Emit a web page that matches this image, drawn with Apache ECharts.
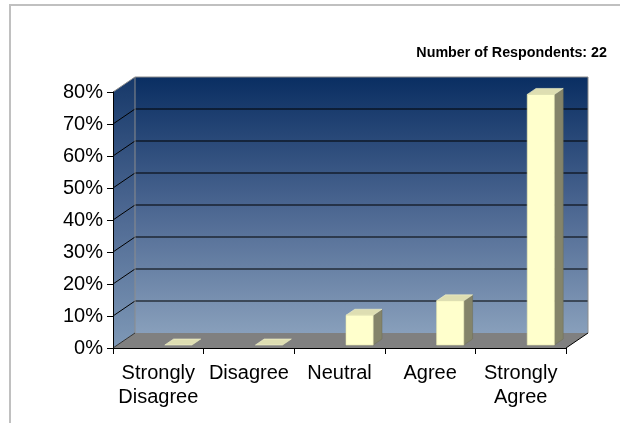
<!DOCTYPE html>
<html>
<head>
<meta charset="utf-8">
<style>
  html, body { margin: 0; padding: 0; background: #ffffff; }
  #chart { width: 620px; height: 423px; }
</style>
<script src="https://cdn.jsdelivr.net/npm/echarts@6/dist/echarts.min.js"></script>
</head>
<body>
<div id="chart"></div>
<script>
// Survey responses (share of respondents, %)
const categories = ['Strongly\nDisagree', 'Disagree', 'Neutral', 'Agree', 'Strongly\nAgree'];
const shares = [0, 0, 9.3, 13.8, 78.3];
const respondents = 22;
const yMax = 80;
const yStep = 10;

// depth of the 3D floor/walls in pixels
const DEPTH_X = 22;
const DEPTH_Y = 15;

const FONT = 'Liberation Sans, Arial, sans-serif';

const chart = echarts.init(document.getElementById('chart'), null, { renderer: 'canvas' });

function wallsRenderItem(params, api) {
  const n = categories.length;
  const bw = api.size([1, 0])[0];
  const base = api.coord([0, 0]);
  const left = base[0] - bw / 2;
  const right = api.coord([n - 1, 0])[0] + bw / 2;
  const yBottom = base[1];
  const yTop = api.coord([0, yMax])[1];
  const bl = left + DEPTH_X, br = right + DEPTH_X;
  const bTop = yTop - DEPTH_Y, bBottom = yBottom - DEPTH_Y;

  const children = [];
  // back wall
  children.push({
    type: 'rect',
    shape: { x: bl, y: bTop, width: br - bl, height: bBottom - bTop },
    style: {
      fill: new echarts.graphic.LinearGradient(0, 0, 0, 1, [
        { offset: 0, color: '#0a2e62' },
        { offset: 0.5, color: '#4a6590' },
        { offset: 1, color: '#889fbb' }
      ])
    }
  });
  // side wall
  children.push({
    type: 'polygon',
    shape: { points: [[left, yTop], [bl, bTop], [bl, bBottom], [left, yBottom]] },
    style: {
      fill: new echarts.graphic.LinearGradient(0, 0, 0, 1, [
        { offset: 0, color: '#163869' },
        { offset: 0.5, color: '#4d6892' },
        { offset: 1, color: '#7e98b6' }
      ])
    }
  });
  // floor
  children.push({
    type: 'polygon',
    shape: { points: [[left, yBottom], [right, yBottom], [br, bBottom], [bl, bBottom]] },
    style: { fill: '#808080' }
  });
  // gridlines on back and side wall
  for (let v = yStep; v < yMax; v += yStep) {
    const y = api.coord([0, v])[1];
    children.push({
      type: 'line',
      shape: { x1: bl, y1: y - DEPTH_Y, x2: br, y2: y - DEPTH_Y },
      style: { stroke: '#000000', lineWidth: 1 }
    });
    children.push({
      type: 'line',
      shape: { x1: left, y1: y, x2: bl, y2: y - DEPTH_Y },
      style: { stroke: '#000000', lineWidth: 1 }
    });
  }
  // wall edges
  children.push({
    type: 'polyline',
    shape: { points: [[left, yTop], [bl, bTop], [br, bTop], [br, bBottom]] },
    style: { stroke: '#8c8c8c', lineWidth: 1, fill: null }
  });
  children.push({
    type: 'line',
    shape: { x1: bl, y1: bTop, x2: bl, y2: bBottom },
    style: { stroke: '#8c8c8c', lineWidth: 1 }
  });
  // floor edges
  children.push({
    type: 'polyline',
    shape: { points: [[left, yBottom], [bl, bBottom]] },
    style: { stroke: '#303030', lineWidth: 1, fill: null }
  });
  children.push({
    type: 'polyline',
    shape: { points: [[right, yBottom], [br, bBottom]] },
    style: { stroke: '#000000', lineWidth: 1, fill: null }
  });
  return { type: 'group', children: children };
}

function barRenderItem(params, api) {
  const i = api.value(0);
  const v = api.value(1);
  const bw = api.size([1, 0])[0];
  const c0 = api.coord([i, 0]);
  const cv = api.coord([i, v]);
  // bar sits between 20% and 60% of the floor depth
  const fy = DEPTH_Y * 0.2;
  const dx = DEPTH_X * 0.4, dy = DEPTH_Y * 0.4;
  const L = c0[0] + bw * 0.072;
  const R = L + bw * 0.3;
  const yb = c0[1] - fy;
  const yt = cv[1] - fy;
  const children = [];
  // side face
  children.push({
    type: 'polygon',
    shape: { points: [[R, yt], [R + dx, yt - dy], [R + dx, yb - dy], [R, yb]] },
    style: { fill: '#84846a', stroke: '#6e6e55', lineWidth: 0.5 }
  });
  // top face
  children.push({
    type: 'polygon',
    shape: { points: [[L, yt], [R, yt], [R + dx, yt - dy], [L + dx, yt - dy]] },
    style: { fill: '#dedeb2', stroke: '#f4f4cc', lineWidth: 0.6 }
  });
  // front face
  if (yb - yt > 0.5) {
    children.push({
      type: 'rect',
      shape: { x: L, y: yt, width: R - L, height: yb - yt },
      style: { fill: '#ffffcc', stroke: '#e6e6b0', lineWidth: 0.6 }
    });
  }
  return { type: 'group', children: children };
}

chart.setOption({
  animation: false,
  backgroundColor: '#ffffff',
  title: {
    text: 'Number of Respondents: ' + respondents,
    right: 8,
    top: 41,
    textStyle: { fontFamily: FONT, fontSize: 14.3, fontWeight: 'bold', color: '#000000' }
  },
  graphic: [
    { type: 'rect', shape: { x: 9, y: 4, width: 611, height: 2 }, style: { fill: '#c0c0c0' }, silent: true },
    { type: 'rect', shape: { x: 9, y: 4, width: 2, height: 419 }, style: { fill: '#c0c0c0' }, silent: true }
  ],
  grid: { left: 113, right: 54, top: 92, bottom: 75, containLabel: false },
  xAxis: {
    type: 'category',
    data: categories,
    z: 10,
    axisLine: { lineStyle: { color: '#000000', width: 1 } },
    axisTick: { show: true, length: 6, lineStyle: { color: '#000000' } },
    axisLabel: {
      margin: 13,
      fontFamily: FONT,
      fontSize: 20,
      lineHeight: 24,
      color: '#000000',
      interval: 0
    },
    splitLine: { show: false }
  },
  yAxis: {
    type: 'value',
    min: 0,
    max: yMax,
    interval: yStep,
    z: 10,
    axisLine: { show: true, lineStyle: { color: '#000000', width: 1 } },
    axisTick: { show: true, length: 6, lineStyle: { color: '#000000' } },
    axisLabel: {
      formatter: '{value}%',
      margin: 10,
      fontFamily: FONT,
      fontSize: 20,
      color: '#000000'
    },
    splitLine: { show: false }
  },
  series: [
    {
      type: 'custom',
      name: 'walls',
      z: 1,
      silent: true,
      renderItem: wallsRenderItem,
      data: [[0, 0]],
      encode: { x: 0, y: 1 }
    },
    {
      type: 'custom',
      name: 'Share of respondents',
      z: 2,
      renderItem: barRenderItem,
      data: shares.map((v, i) => [i, v]),
      encode: { x: 0, y: 1 }
    }
  ]
});
</script>
</body>
</html>
